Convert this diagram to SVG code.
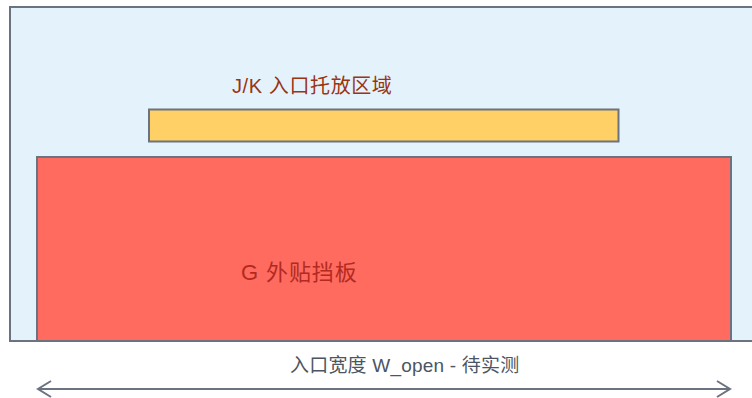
<svg xmlns="http://www.w3.org/2000/svg" width="752" height="398" viewBox="0 0 752 398">
<style>
.box{stroke:#6b7280;stroke-width:2}
.t{font-family:"Liberation Sans","Noto Sans CJK SC",sans-serif}
</style>
<defs>
<marker id="ah" markerWidth="16" markerHeight="18" refX="14" refY="9" orient="auto-start-reverse" markerUnits="userSpaceOnUse">
<path d="M1,1 L14,9 L1,17" fill="none" stroke="#6b7280" stroke-width="2"/>
</marker>
</defs>
<rect width="752" height="398" fill="#ffffff"/>
<g id="area">
<rect class="box" x="10" y="7" width="760" height="334" fill="#e4f3fb"/>
</g>
<g id="jk">
<rect class="box" x="149" y="109.5" width="469.5" height="32" fill="#fed065"/>
<text class="t" x="232" y="93" font-size="20" letter-spacing="0.6" fill="#9a3412">J/K 入口托放区域</text>
</g>
<g id="g">
<rect class="box" x="37" y="157" width="694" height="184" fill="#ff6b5e"/>
<text class="t" x="241" y="280" font-size="22" letter-spacing="0.9" fill="#b22a22">G 外贴挡板</text>
</g>
<g id="connectors">
<line x1="38" y1="389" x2="730" y2="389" stroke="#6b7280" stroke-width="2" marker-start="url(#ah)" marker-end="url(#ah)"/>
<text class="t" x="290" y="372" font-size="19" letter-spacing="0.2" fill="#4b5563">入口宽度 W_open - 待实测</text>
</g>
</svg>
